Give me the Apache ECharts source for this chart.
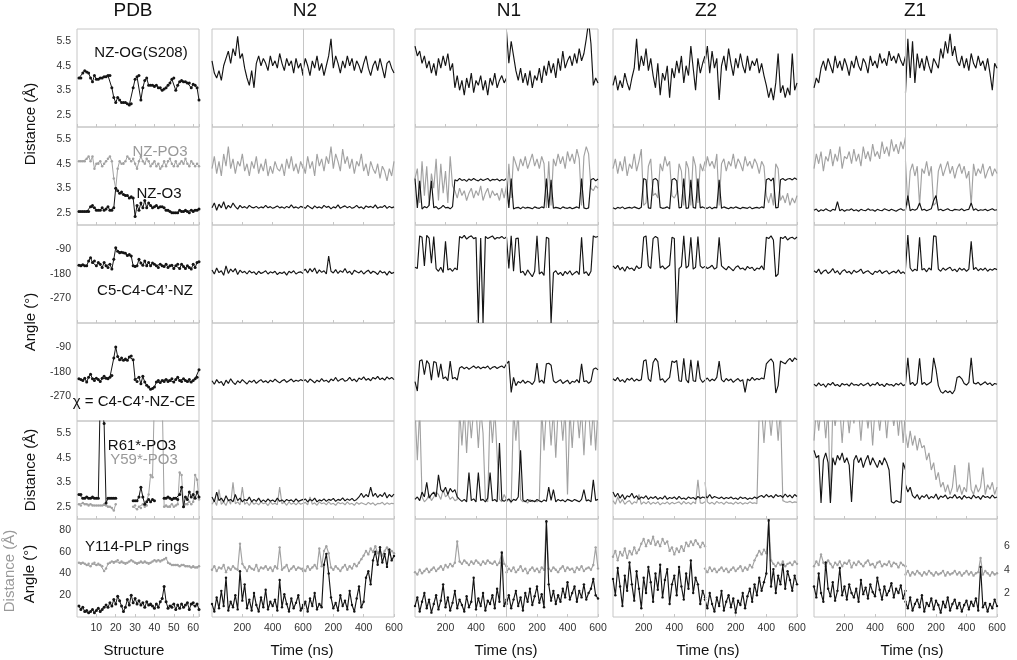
<!DOCTYPE html>
<html><head><meta charset="utf-8">
<script src="https://cdn.jsdelivr.net/npm/echarts@6/dist/echarts.min.js"></script>
<style>html,body{margin:0;padding:0;background:#fff}#c{width:1017px;height:660px}</style>
</head><body><div id="c"></div>
<script>
// ---------------- tick labels / categories ----------------
const columnTitles = ['PDB','N2','N1','Z2','Z1'];
const distTicks = [2.5,3.5,4.5,5.5];
const angleTicks = [-90,-180,-270];
const ringAngleTicks = [20,40,60,80];
const ringDistTicks = [2,4,6];

// ---------------- PDB column (structures 1..63) ----------------
const pdbR1 = [4.0,4.0,4.2,4.3,4.25,4.2,4.0,3.85,4.1,3.95, 3.95,4.0,4.0,4.05,4.05,4.1,4.1,3.6,3.2,3.0, 3.2,3.1,3.0,3.0,3.0,2.95,2.9,2.95,3.6,3.95, 4.05,4.1,3.1,3.6,3.9,4.0,3.7,3.7,3.7,3.65, 3.7,3.6,3.6,3.5,3.55,3.6,3.7,3.8,3.95,4.0, 3.5,3.7,3.85,3.9,3.85,3.85,3.8,3.8,3.6,3.75, 3.7,3.6,3.1];
const pdbR2PO3 = [4.6,4.6,4.6,4.6,4.7,4.8,4.6,4.8,4.3,4.5, 4.5,4.6,4.4,4.5,4.6,4.7,4.8,4.6,3.9,3.5, 4.3,4.6,4.5,4.5,4.6,4.8,4.7,4.6,4.7,4.5, 4.3,4.6,4.8,4.6,4.5,4.7,4.6,4.4,4.5,4.6, 4.4,4.5,4.3,4.4,4.6,4.4,4.6,4.7,4.5,4.4, 4.6,4.4,4.5,4.6,4.5,4.7,4.5,4.4,4.6,4.5, 4.4,4.5,4.4];
const pdbR2O3 = [2.55,2.55,2.55,2.55,2.55,2.55,2.75,2.8,2.7,2.6, 2.6,2.6,2.7,2.6,2.65,2.75,2.6,2.6,2.7,3.5, 3.4,3.3,3.35,3.25,3.2,3.2,3.1,3.15,3.1,2.35, 2.8,2.6,2.9,2.7,3.0,2.7,2.9,2.8,2.7,2.75, 2.8,2.7,2.75,2.75,2.7,2.6,2.6,2.55,2.5,2.5, 2.5,2.5,2.6,2.55,2.55,2.6,2.55,2.5,2.6,2.55, 2.6,2.6,2.65];
const pdbR3 = [-148,-150,-146,-150,-150,-132,-120,-138,-132,-150, -138,-144,-156,-138,-150,-156,-144,-162,-126,-84, -96,-102,-100,-102,-104,-112,-108,-114,-150,-152, -150,-126,-140,-148,-132,-150,-138,-150,-140,-144, -150,-156,-144,-150,-152,-144,-156,-150,-148,-160, -150,-144,-160,-144,-152,-160,-150,-156,-162,-144, -156,-138,-135];
const pdbR4 = [-205,-208,-211,-203,-217,-199,-188,-205,-211,-203, -208,-215,-203,-196,-203,-205,-199,-193,-129,-88, -123,-135,-129,-137,-132,-137,-125,-121,-135,-208, -215,-199,-223,-196,-217,-229,-235,-243,-241,-235, -217,-211,-219,-211,-215,-208,-215,-211,-205,-217, -208,-199,-211,-215,-205,-211,-215,-208,-217,-211, -205,-199,-172];
const pdbR5R61 = [3.0,3.0,2.85,2.85,2.9,2.85,2.85,2.9,2.85,2.85, 2.85,7.0,7.0,5.9,2.65,2.85,2.85,2.85,2.85,2.85, null,null,null,null,null,null,null,null,2.75,2.75, 2.75,2.9,3.3,2.9,2.6,2.7,2.8,2.7,2.8,2.75, null,null,null,null,2.85,2.85,2.9,2.85,2.8,2.85, 2.85,2.8,3.0,3.3,2.5,2.9,2.8,3.1,2.9,3.0, 2.85,3.1,2.9];
const pdbR5Y59 = [2.6,2.55,2.65,2.6,2.6,2.55,2.6,2.55,2.55,2.55, 2.55,2.55,2.55,2.6,2.55,2.5,2.5,2.45,2.35,2.6, null,null,null,null,null,null,null,null,2.5,2.55, 2.4,2.5,2.45,2.6,2.5,2.55,3.0,3.8,3.7,7.0, null,null,null,7.0,2.5,2.55,2.5,2.5,2.6,2.5, 2.55,2.6,3.9,3.8,2.5,2.6,2.6,2.7,2.6,2.7, 3.8,3.6,2.8];
const pdbR6Angle = [10,7,9,5,6,4,5,7,4,6, 8,5,7,9,11,9,13,10,16,12, 19,15,10,5,9,16,11,20,13,17, 12,15,11,13,9,14,11,12,10,8, 12,9,14,17,28,14,8,10,9,12, 7,11,8,12,9,11,13,7,12,13, 10,12,7];
const pdbR6Dist = [4.6,4.5,4.6,4.5,4.4,4.5,4.3,4.5,4.6,4.4, 4.5,4.4,4.3,3.9,4.1,4.5,4.6,4.7,4.6,4.7, 4.8,4.6,4.7,4.6,4.5,4.6,4.7,4.8,4.7,4.6, 4.5,4.6,4.7,4.6,4.7,4.6,4.5,4.6,4.7,4.8, 4.7,4.8,4.7,4.8,4.9,5.0,4.6,4.5,4.4,4.4, 4.4,4.4,4.3,4.4,4.4,4.3,4.3,4.3,4.2,4.3, 4.2,4.2,4.3];

// ---------------- N2 (two 600 ns runs: a, b) ----------------
const n2R1a = [4.7,4.2,4.0,4.3,3.9,4.5,4.8,5.1,4.6,5.2, 4.9,5.7,4.8,5.0,4.4,4.0,3.7,4.3,3.6,4.6, 4.9,4.5,4.8,4.6,4.3,4.9,4.5,4.7,4.4,5.0, 4.6,4.3,4.8,4.5,4.7,4.2,4.8,4.4,4.6,4.1];
const n2R1b = [4.3,4.8,4.5,4.1,4.7,4.4,4.9,4.3,4.6,4.1, 4.5,4.9,5.6,4.4,4.9,4.6,4.2,4.7,4.4,4.9, 4.5,4.8,4.3,4.7,4.5,4.2,4.6,4.9,4.4,4.1, 4.5,4.7,4.3,4.8,4.4,4.0,4.6,4.7,4.4,4.2];
const n2R2POa = [4.3,4.8,4.1,4.6,4.0,4.9,4.4,5.2,4.3,4.7, 4.1,4.6,4.4,4.9,4.2,4.5,4.0,4.6,4.3,4.8, 4.1,4.5,4.2,4.7,4.0,4.4,4.1,4.6,4.3,4.2, 4.5,4.0,4.7,4.3,4.8,4.2,4.5,4.1,4.6,4.3];
const n2R2POb = [4.5,4.1,4.8,4.3,4.6,4.0,4.9,4.4,4.7,4.2, 4.8,4.5,5.2,4.3,4.9,4.6,4.2,5.1,4.5,4.8, 4.3,4.7,4.1,4.6,4.4,4.9,4.2,4.5,4.0,4.6, 4.3,4.1,4.5,3.9,4.4,4.2,3.8,4.3,4.0,4.6];
const n2R2Oa = [2.7,2.9,2.6,2.85,2.7,2.95,2.65,2.8,2.7,2.9, 2.75,2.65,2.8,2.7,2.75,2.68,2.8,2.72,2.7,2.76, 2.68,2.74,2.7,2.8,2.7,2.75,2.68,2.72,2.78,2.7, 2.74,2.68,2.76,2.7,2.82,2.7,2.74,2.68,2.76,2.72];
const n2R2Ob = [2.75,2.68,2.8,2.72,2.66,2.78,2.7,2.74,2.68,2.8, 2.72,2.76,2.66,2.74,2.7,2.82,2.68,2.74,2.78,2.7, 2.76,2.68,2.72,2.8,2.7,2.74,2.66,2.78,2.72,2.76, 2.7,2.82,2.68,2.74,2.72,2.8,2.68,2.76,2.7,2.74];
const n2R3a = [-165,-180,-158,-175,-168,-185,-150,-178,-162,-172, -160,-182,-166,-175,-170,-180,-168,-176,-172,-182, -170,-178,-174,-168,-180,-172,-176,-170,-182,-174, -178,-172,-184,-170,-176,-168,-180,-174,-172,-178];
const n2R3b = [-170,-162,-176,-160,-172,-158,-178,-165,-174,-168, -180,-114,-170,-176,-164,-178,-168,-174,-160,-176, -170,-182,-166,-172,-176,-168,-180,-172,-166,-178, -170,-174,-182,-168,-176,-172,-184,-170,-178,-174];
const n2R4a = [-212,-225,-208,-220,-215,-230,-210,-222,-205,-218, -226,-212,-220,-208,-216,-224,-212,-218,-210,-222, -214,-208,-218,-212,-220,-210,-216,-206,-214,-220, -212,-208,-218,-212,-206,-216,-210,-214,-208,-212];
const n2R4b = [-214,-208,-218,-206,-212,-220,-210,-216,-204,-214, -210,-218,-206,-212,-200,-214,-208,-204,-214,-210, -200,-212,-206,-216,-202,-208,-198,-210,-204,-212, -200,-206,-196,-208,-202,-210,-198,-206,-200,-208];
const n2R5Ya = [2.6,2.75,2.55,3.2,2.6,2.7,2.55,2.8,2.6,3.5, 2.62,2.7,2.58,3.3,2.6,2.68,2.55,2.72,2.6,2.66, 2.58,2.7,2.62,2.66,2.55,2.7,2.6,2.64,2.58,3.3, 2.62,2.68,2.56,2.7,2.6,2.66,2.58,2.68,2.6,2.64];
const n2R5Yb = [2.62,2.68,2.58,2.9,2.6,2.66,2.56,2.7,2.62,2.66, 2.58,2.7,2.6,2.64,2.56,2.68,2.62,2.66,2.58,2.7, 2.6,2.64,2.56,2.68,2.6,2.66,2.62,2.58,2.68,2.6, 2.66,2.56,2.64,2.62,2.68,2.58,2.66,2.6,2.64,2.62];
const n2R5Ra = [2.9,2.7,3.1,2.75,2.85,2.7,2.95,2.75,2.8,2.7, 3.0,2.75,2.85,2.7,2.8,2.75,2.9,2.7,2.8,2.72, 2.85,2.7,2.78,2.7,2.82,2.72,2.78,2.7,2.85,2.72, 2.78,2.7,2.8,2.74,2.78,2.7,2.82,2.72,2.76,2.8];
const n2R5Rb = [2.75,2.82,2.7,2.8,2.74,2.85,2.7,2.78,2.74,2.82, 2.72,2.8,2.76,2.84,2.72,2.8,2.76,2.86,2.74,2.82, 2.76,2.84,2.74,2.8,2.9,3.05,2.88,3.0,2.9,3.3, 2.92,3.05,2.88,3.0,2.92,3.08,2.86,3.0,2.9,3.02];
const n2R6Da = [4.0,4.3,3.9,4.2,4.1,4.4,3.8,4.2,4.0,4.3, 4.1,4.0,6.2,4.5,4.2,3.9,4.3,4.1,4.0,4.4, 3.9,4.2,4.1,4.3,4.0,4.2,3.9,4.3,4.1,5.9, 4.0,4.2,4.4,3.9,4.1,4.3,4.0,4.2,4.1,3.9];
const n2R6Db = [4.1,3.9,4.3,4.0,4.2,4.4,4.1,5.8,4.3,5.6, 6.0,5.4,4.2,4.0,4.3,4.1,3.9,4.2,4.4,4.0, 4.3,4.1,4.5,4.3,4.6,4.9,5.2,5.6,5.3,5.8, 5.5,6.0,5.4,5.7,5.2,5.6,5.9,5.3,5.6,5.4];
const n2R6Aa = [12,5,18,8,24,10,36,6,14,9, 20,7,42,15,30,8,16,6,22,11, 5,18,9,25,7,14,10,16,6,34, 9,21,12,5,17,8,13,20,6,11];
const n2R6Ab = [8,14,5,17,10,22,7,12,9,48, 58,40,18,8,13,6,20,10,15,7, 24,11,5,17,28,9,14,36,42,30, 52,60,48,64,50,58,46,62,52,56];

// ---------------- N1 ----------------
const n1R1a = [5.3,4.9,5.1,4.6,4.9,4.4,4.7,4.2,4.6,4.1, 4.8,4.4,4.9,4.5,5.0,4.3,4.6,3.6,4.1,3.5, 3.9,3.3,4.0,3.6,4.2,3.4,3.9,3.7,4.1,3.5, 3.9,3.3,4.0,3.7,4.2,3.6,3.9,4.1,3.8,4.0];
const n1R1b = [5.9,4.6,5.5,4.9,4.3,3.9,4.4,3.8,4.2,3.7, 4.3,3.6,4.1,3.9,4.4,3.8,4.5,4.1,4.7,4.2, 4.6,4.0,4.8,4.3,5.1,4.4,4.7,4.9,4.5,5.0, 4.6,5.2,4.7,5.0,5.6,6.3,5.4,3.7,4.0,3.8];
const n1R2POa = [3.9,4.3,2.9,4.6,3.2,4.4,2.8,4.1,3.5,4.7, 3.0,4.5,3.3,4.2,2.9,4.8,3.6,3.4,3.1,3.5, 3.2,3.4,3.0,3.3,3.5,3.1,3.4,3.2,3.6,3.0, 3.3,3.5,3.1,3.4,3.2,3.3,3.0,3.5,3.1,3.6];
const n1R2POb = [2.8,4.5,3.1,4.8,4.5,4.2,4.7,4.4,4.8,4.3, 4.6,4.9,4.4,4.7,4.3,4.8,4.5,2.7,4.6,2.8, 4.7,4.4,4.9,4.5,4.8,4.3,5.0,4.6,4.9,4.5, 5.1,4.7,2.8,4.8,5.2,4.9,3.5,3.4,3.6,3.5];
const n1R2Oa = [3.9,2.7,3.8,2.65,2.75,2.7,2.8,3.8,2.7,2.75, 2.65,2.7,2.8,2.7,2.72,2.66,2.75,3.85,3.8,3.9, 3.82,3.86,3.78,3.88,3.82,3.9,3.84,3.8,3.88,3.82, 3.86,3.9,3.8,3.86,3.84,3.88,3.8,3.86,3.82,3.9];
const n1R2Ob = [3.8,2.7,3.9,2.65,2.7,2.72,2.66,2.74,2.68,2.72, 2.7,2.66,2.74,2.7,2.68,2.74,2.7,3.9,2.7,3.85, 2.68,2.72,2.7,2.66,2.74,2.7,2.68,2.72,2.66,2.7, 2.74,2.68,3.9,2.7,2.66,2.7,3.85,3.9,3.8,3.88];
const n1R3a = [-155,-160,-40,-45,-150,-38,-48,-140,-42,-160, -170,-155,-175,-60,-165,-160,-170,-158,-165,-42, -48,-38,-52,-44,-40,-50,-46,-360,-48,-360, -42,-50,-45,-40,-52,-46,-48,-42,-50,-44];
const n1R3b = [-45,-160,-40,-170,-50,-48,-175,-170,-185,-165, -178,-190,-170,-40,-180,-172,-185,-45,-50,-360, -176,-168,-182,-174,-186,-170,-180,-168,-184,-176, -170,-182,-45,-178,-172,-186,-170,-40,-45,-42];
const n1R4a = [-215,-250,-140,-135,-190,-138,-150,-210,-142,-145, -200,-150,-205,-198,-212,-140,-205,-200,-210,-165, -160,-168,-162,-170,-164,-158,-166,-160,-168,-162, -165,-158,-170,-163,-160,-167,-162,-158,-165,-150];
const n1R4b = [-150,-140,-255,-200,-230,-215,-220,-210,-222,-214, -218,-226,-212,-147,-218,-210,-222,-150,-148,-155, -212,-220,-214,-208,-222,-216,-210,-224,-214,-218, -208,-220,-150,-216,-212,-222,-214,-170,-165,-172];
const n1R5Ya = [6.5,4.4,6.5,2.9,2.7,2.8,3.0,2.75,2.9,3.1, 3.0,2.8,3.2,2.9,3.0,2.8,2.9,2.75,2.8,6.5, 5.0,6.5,4.7,6.5,5.3,6.5,6.5,4.9,6.5,5.5, 2.8,2.7,6.5,5.1,6.5,4.6,2.8,2.7,3.0,2.8];
const n1R5Yb = [2.7,2.8,2.65,6.5,5.2,6.5,2.8,2.7,2.75,2.65, 2.8,2.7,2.75,2.7,2.8,6.5,4.8,6.5,6.5,5.0, 6.5,4.5,6.5,6.5,5.2,6.5,3.0,6.5,4.9,6.5, 6.5,5.3,6.5,4.6,6.5,6.5,5.0,6.5,4.8,6.5];
const n1R5Ra = [2.8,2.9,2.75,3.1,2.9,3.5,2.85,3.0,3.1,2.9, 3.8,3.2,3.1,3.3,3.0,3.25,3.1,3.2,2.9,2.8, 2.72,2.8,2.7,3.9,2.75,2.82,2.7,3.9,2.76,2.8, 2.7,2.85,3.9,2.74,2.8,2.7,5.1,2.78,2.72,2.8];
const n1R5Rb = [2.75,2.82,2.7,2.8,2.76,2.9,4.8,2.78,2.7,2.8, 2.72,2.76,2.7,2.8,2.74,2.7,2.78,2.72,3.3,2.76, 3.2,2.7,2.8,2.74,2.78,2.7,2.8,2.76,2.72,2.8, 2.75,2.7,2.8,3.2,2.74,2.78,2.7,3.6,2.76,2.8];
const n1R6Da = [3.8,3.6,4.0,3.7,3.9,4.1,3.8,4.0,4.2,3.9, 4.1,4.3,4.0,4.4,4.2,4.5,4.3,4.6,6.4,4.7, 4.5,4.8,4.6,4.4,4.7,4.5,4.8,4.6,4.4,4.7, 4.5,4.8,4.6,4.5,4.7,4.4,4.6,5.5,4.5,4.3];
const n1R6Db = [3.8,4.1,3.9,4.2,3.8,4.0,4.3,3.9,4.1,3.7, 4.0,4.2,3.9,4.1,3.8,4.2,4.0,8.0,4.1,3.9, 4.2,4.0,3.8,4.1,4.3,3.9,4.2,4.0,4.1,3.8, 4.2,4.0,4.3,3.9,4.1,4.2,4.0,4.4,5.9,4.1];
const n1R6Aa = [10,18,5,14,22,8,16,4,12,20, 7,15,30,9,18,6,13,24,8,16, 11,5,19,9,14,36,7,17,10,22, 6,15,12,20,8,26,14,59,10,16];
const n1R6Ab = [12,20,8,16,24,10,18,6,22,14, 26,11,19,28,13,21,9,88,30,15, 24,12,20,14,26,18,32,16,22,28, 14,24,18,30,16,22,26,35,20,17];

// ---------------- Z2 ----------------
const z2R1a = [3.7,4.1,3.5,3.9,3.6,4.2,3.8,3.5,4.0,4.4, 5.6,4.3,4.9,4.5,5.2,4.3,4.8,4.1,3.6,4.6, 3.3,4.2,3.9,4.5,3.2,4.4,4.0,4.7,4.2,4.9, 3.8,4.5,4.1,5.3,4.4,3.5,4.8,4.2,4.6,4.9];
const z2R1b = [4.6,5.3,4.2,5.1,4.4,4.8,3.1,4.5,4.9,4.3, 5.2,4.6,4.1,4.8,4.4,5.0,4.5,4.2,4.9,4.3, 4.7,4.5,4.8,4.2,4.6,4.1,3.7,3.2,3.6,3.1, 3.8,5.0,3.4,3.7,3.2,3.6,3.3,5.0,3.5,3.8];
const z2R2POa = [4.3,4.7,4.1,4.6,4.2,4.8,4.0,4.5,4.3,4.9, 4.2,4.6,5.1,2.8,2.9,4.4,4.7,3.2,3.3,3.1, 4.5,4.2,4.8,4.4,4.6,3.2,3.1,3.3,4.5,4.2, 2.8,4.6,4.3,2.8,4.8,4.4,2.9,4.5,4.2,4.6];
const z2R2POb = [4.2,4.8,4.4,4.6,4.3,4.9,2.8,4.5,4.7,4.2, 4.6,4.4,4.9,4.3,4.7,4.5,4.2,4.8,4.4,4.6, 4.3,4.7,4.5,4.1,4.6,4.4,3.2,2.9,3.3,2.8, 4.5,4.3,3.0,3.2,2.9,3.3,2.8,3.1,2.9,3.2];
const z2R2Oa = [2.7,2.65,2.72,2.68,2.74,2.66,2.7,2.72,2.68,2.74, 2.7,2.66,2.72,3.9,3.85,2.7,2.68,3.85,3.9,3.8, 2.72,2.68,2.7,2.74,2.66,3.85,3.9,3.8,2.7,2.72, 3.9,2.68,2.7,3.85,2.72,2.68,3.9,2.7,2.74,2.68];
const z2R2Ob = [2.7,2.68,2.74,2.66,2.72,2.7,3.85,2.68,2.74,2.7, 2.66,2.72,2.68,2.74,2.7,2.66,2.72,2.7,2.68,2.74, 2.66,2.7,2.72,2.68,2.74,2.7,3.85,3.9,3.8,3.92, 2.7,2.72,3.85,3.9,3.82,3.88,3.9,3.84,3.92,3.86];
const z2R3a = [-150,-160,-148,-165,-155,-170,-152,-162,-158,-168, -150,-160,-155,-45,-40,-150,-160,-50,-42,-48, -158,-150,-162,-155,-148,-45,-50,-360,-160,-152, -40,-158,-150,-45,-162,-155,-42,-150,-158,-152];
const z2R3b = [-150,-160,-155,-148,-162,-156,-45,-150,-158,-165, -152,-160,-168,-155,-150,-162,-158,-166,-152,-160, -155,-168,-158,-162,-150,-165,-45,-50,-40,-55, -190,-180,-45,-50,-42,-55,-48,-45,-52,-44];
const z2R4a = [-205,-212,-200,-215,-208,-218,-204,-210,-202,-214, -206,-212,-208,-140,-135,-205,-215,-145,-130,-142, -210,-205,-218,-208,-200,-140,-145,-138,-212,-215, -130,-208,-220,-135,-212,-215,-138,-205,-218,-210];
const z2R4b = [-210,-202,-214,-206,-212,-200,-140,-208,-216,-204, -212,-206,-218,-210,-204,-214,-208,-255,-206,-212, -200,-210,-204,-208,-202,-206,-150,-140,-132,-145, -257,-230,-140,-145,-150,-138,-130,-142,-128,-135];
const z2R5Ya = [2.75,2.6,2.9,2.65,2.8,2.6,2.7,2.75,2.6,2.7, 2.65,3.0,2.6,2.7,2.62,2.72,2.6,2.68,2.62,2.7, 2.58,2.66,2.62,2.7,2.6,2.68,2.62,2.66,2.7,2.6, 2.72,2.62,2.68,2.6,2.7,2.62,3.6,2.66,2.64,2.7];
const z2R5Yb = [3.5,2.7,2.62,2.68,2.6,2.72,2.64,2.68,2.6,2.7, 2.64,2.66,2.6,2.7,2.62,2.68,2.6,2.66,2.62,2.7, 2.64,2.66,2.62,6.5,6.5,5.1,6.5,6.5,5.4,6.5, 6.5,5.2,6.5,2.75,2.7,2.68,2.72,2.66,2.7,2.68];
const z2R5Ra = [3.1,2.9,3.05,2.85,3.0,2.8,2.95,2.9,3.05,2.85, 2.95,2.8,2.9,2.85,2.95,2.8,2.9,2.84,2.92,2.8, 2.88,2.82,2.95,2.8,2.88,2.84,2.9,2.8,2.92,2.82, 2.86,2.8,2.9,2.84,2.88,2.8,2.92,2.84,2.9,2.86];
const z2R5Rb = [2.95,2.86,3.0,2.84,2.92,2.88,2.84,2.9,2.82,2.88, 2.84,2.9,2.82,2.86,2.8,2.9,2.84,2.88,2.8,2.86, 2.82,2.9,2.84,2.92,2.96,2.88,3.0,2.9,2.96,2.86, 3.0,2.92,2.96,2.88,3.02,2.9,2.98,2.86,3.0,2.92];
const z2R6Da = [5.1,5.6,4.8,5.5,5.2,5.8,5.0,5.6,5.3,5.9, 5.4,5.7,6.2,6.6,6.0,6.5,6.2,6.8,6.1,6.4, 6.0,6.6,6.2,6.4,5.6,5.9,5.3,5.8,5.5,6.0, 5.6,6.3,6.0,6.4,6.1,6.5,6.2,5.9,6.3,6.0];
const z2R6Db = [4.1,3.8,4.2,3.9,4.1,3.8,4.0,4.2,3.9,4.1, 3.8,4.0,4.2,3.9,4.1,4.3,3.9,4.2,4.0,4.4, 4.2,4.8,5.2,5.6,5.3,5.7,5.4,8.1,4.8,4.5, 4.3,4.6,4.4,4.7,4.3,4.5,4.6,4.4,4.7,4.5];
const z2R6Aa = [35,20,45,28,10,38,24,50,30,15, 42,26,8,36,22,46,32,14,40,25, 48,18,34,44,12,30,38,20,46,28, 16,40,26,52,22,36,30,12,24,18];
const z2R6Ab = [16,8,22,12,5,18,10,24,6,14, 20,9,17,4,15,11,22,8,19,26, 14,30,20,36,24,32,40,89,28,44, 22,38,30,48,26,42,34,24,38,30];

// ---------------- Z1 ----------------
const z1R1a = [3.6,4.0,3.8,4.4,4.7,4.3,4.8,4.5,4.2,4.9, 4.4,4.7,4.3,4.8,4.5,4.1,4.7,4.4,4.9,4.5, 4.3,4.8,4.6,4.2,4.9,4.5,4.7,4.4,5.0,4.6, 4.8,4.5,5.1,4.7,4.9,4.6,5.0,4.7,4.5,4.9];
const z1R1b = [3.4,5.6,4.0,5.5,3.8,5.0,4.4,4.8,4.3,4.9, 4.5,4.2,4.8,4.6,4.4,5.2,4.8,5.5,5.0,5.8, 4.9,5.3,4.7,4.5,4.9,4.4,4.8,4.3,5.0,4.6, 4.4,4.9,4.5,4.7,4.3,4.8,4.2,3.5,4.6,4.4];
const z1R2POa = [4.3,4.9,4.5,5.0,4.2,4.8,4.6,5.1,4.4,4.9, 4.6,5.2,4.3,4.8,4.7,5.0,4.5,5.1,4.6,4.9, 4.4,5.2,4.7,5.0,4.6,5.3,4.8,5.0,4.7,5.4, 4.9,5.2,4.8,5.5,5.0,5.3,4.9,5.4,5.1,5.6];
const z1R2POb = [4.6,2.8,4.2,4.5,4.0,4.4,2.8,4.3,4.1,4.6, 4.0,4.4,2.8,2.9,4.2,4.5,4.0,4.3,4.6,4.1, 4.4,3.9,4.3,4.5,4.1,4.4,3.9,4.2,2.8,4.5, 4.0,4.3,4.1,4.5,3.9,4.2,4.4,4.0,4.3,4.1];
const z1R2Oa = [2.6,2.65,2.55,2.62,2.58,2.66,2.6,2.56,2.64,2.6, 2.95,2.58,2.64,2.56,2.62,2.6,2.66,2.58,2.62,2.56, 2.64,2.6,2.58,2.66,2.6,2.62,2.56,2.64,2.6,2.58, 2.66,2.62,2.58,2.64,2.6,2.56,2.62,2.66,2.6,2.62];
const z1R2Ob = [2.62,3.2,2.58,2.64,2.6,2.66,2.9,2.6,2.64,2.58, 2.62,2.66,3.0,3.2,2.6,2.64,2.58,2.62,2.66,2.6, 2.58,2.64,2.62,2.6,2.66,2.58,2.62,2.64,2.9,2.6, 2.66,2.58,2.62,2.6,2.64,2.58,2.62,2.66,2.6,2.62];
const z1R3a = [-168,-175,-162,-180,-170,-165,-178,-172,-160,-176, -168,-182,-170,-164,-175,-170,-180,-166,-174,-170, -162,-178,-172,-168,-176,-182,-170,-174,-166,-178, -172,-168,-180,-174,-170,-176,-165,-178,-172,-180];
const z1R3b = [-160,-37,-158,-170,-162,-168,-45,-165,-160,-172, -158,-166,-40,-42,-162,-170,-158,-166,-160,-155, -168,-162,-172,-158,-166,-160,-170,-162,-60,-164, -156,-168,-160,-166,-158,-170,-162,-166,-160,-164];
const z1R4a = [-225,-232,-220,-230,-224,-236,-222,-228,-218,-230, -226,-234,-222,-228,-224,-232,-220,-228,-226,-230, -222,-230,-226,-220,-232,-224,-228,-218,-230,-225, -234,-222,-228,-226,-232,-222,-228,-220,-230,-226];
const z1R4b = [-222,-128,-226,-218,-230,-220,-130,-226,-218,-228, -222,-216,-128,-170,-230,-252,-258,-248,-256,-250, -260,-246,-200,-196,-205,-222,-228,-218,-128,-220, -224,-218,-228,-222,-216,-226,-220,-230,-222,-225];
const z1R5Ya = [5.2,6.5,5.6,6.5,6.5,5.3,6.5,2.65,6.5,5.8, 6.5,6.5,5.1,6.5,6.5,5.5,6.5,5.9,6.5,6.5, 5.2,6.5,6.5,5.7,6.5,5.0,6.5,6.5,5.6,6.5, 6.5,5.3,6.5,6.5,5.8,6.5,5.4,6.5,5.1,6.5];
const z1R5Yb = [5.5,4.9,5.6,5.0,5.4,4.8,5.3,4.9,5.0,4.4, 4.7,4.0,4.3,3.6,3.9,3.3,3.5,3.1,3.4,3.0, 3.3,4.2,3.1,3.4,3.0,3.3,3.1,4.3,3.2,3.0, 3.4,3.1,3.3,4.1,3.0,3.4,3.2,3.5,3.0,3.3];
const z1R5Ra = [4.8,4.5,4.6,2.65,4.4,4.7,4.3,2.65,4.5,4.2, 4.6,4.4,4.7,4.3,4.5,4.2,2.7,4.4,4.6,4.3, 4.5,4.1,4.4,4.6,4.2,4.5,4.3,4.1,4.4,4.2, 4.5,4.3,4.0,2.7,2.65,2.75,2.7,2.68,4.3,4.0];
const z1R5Rb = [3.4,3.1,3.3,2.95,2.85,3.0,2.8,2.95,2.88,3.0, 2.82,2.92,2.86,3.02,2.8,2.94,2.88,2.98,2.82,2.9, 2.86,3.0,2.84,2.92,2.8,2.96,2.86,2.9,2.82,2.98, 2.86,2.92,2.8,2.96,2.88,2.92,2.84,2.98,2.86,2.9];
const z1R6Da = [4.3,4.7,4.4,5.3,4.6,4.3,4.8,4.5,4.2,4.6, 4.4,4.7,4.3,4.6,4.5,4.8,4.2,4.6,4.4,4.7, 4.5,4.3,4.6,4.8,4.4,4.5,4.2,4.6,4.7,4.3, 4.5,4.4,4.7,4.3,4.6,4.5,4.2,4.6,4.4,4.3];
const z1R6Db = [3.6,3.9,3.5,3.8,3.6,3.9,3.7,3.5,3.8,3.6, 3.9,3.7,3.5,3.8,3.6,3.7,3.9,3.5,3.8,3.6, 3.7,3.9,3.6,3.8,3.5,3.7,3.9,3.6,3.8,3.5, 3.7,3.8,5.0,3.6,3.9,3.7,3.5,3.8,3.6,3.7];
const z1R6Aa = [28,18,40,22,14,50,26,19,32,15, 24,45,20,28,16,30,22,18,26,14, 34,21,27,17,30,23,19,36,25,16, 28,20,24,31,18,26,22,29,17,24];
const z1R6Ab = [14,8,18,6,12,16,9,20,5,13, 10,17,7,15,11,4,14,9,18,6, 12,16,8,13,5,11,15,7,14,10, 17,6,46,9,13,5,12,8,16,10];

// ---------------- build ----------------
const FONT = '"Liberation Sans", Arial, Helvetica, sans-serif';
const BLACK = '#141414', GRAY = '#a2a2a2', BORDER = '#c6c6c6';
const COL_L = [77, 212, 415, 613, 814];
const COL_R = [199, 394, 598, 797, 997];
const ROW_T = 29, ROW_H = 98;

const mdCols = [
  {r1:[n2R1a,n2R1b], r2g:[n2R2POa,n2R2POb], r2b:[n2R2Oa,n2R2Ob], r3:[n2R3a,n2R3b], r4:[n2R4a,n2R4b], r5g:[n2R5Ya,n2R5Yb], r5b:[n2R5Ra,n2R5Rb], r6g:[n2R6Da,n2R6Db], r6b:[n2R6Aa,n2R6Ab]},
  {r1:[n1R1a,n1R1b], r2g:[n1R2POa,n1R2POb], r2b:[n1R2Oa,n1R2Ob], r3:[n1R3a,n1R3b], r4:[n1R4a,n1R4b], r5g:[n1R5Ya,n1R5Yb], r5b:[n1R5Ra,n1R5Rb], r6g:[n1R6Da,n1R6Db], r6b:[n1R6Aa,n1R6Ab]},
  {r1:[z2R1a,z2R1b], r2g:[z2R2POa,z2R2POb], r2b:[z2R2Oa,z2R2Ob], r3:[z2R3a,z2R3b], r4:[z2R4a,z2R4b], r5g:[z2R5Ya,z2R5Yb], r5b:[z2R5Ra,z2R5Rb], r6g:[z2R6Da,z2R6Db], r6b:[z2R6Aa,z2R6Ab]},
  {r1:[z1R1a,z1R1b], r2g:[z1R2POa,z1R2POb], r2b:[z1R2Oa,z1R2Ob], r3:[z1R3a,z1R3b], r4:[z1R4a,z1R4b], r5g:[z1R5Ya,z1R5Yb], r5b:[z1R5Ra,z1R5Rb], r6g:[z1R6Da,z1R6Db], r6b:[z1R6Aa,z1R6Ab]}
];

function mdPts(pair) {
  const [a, b] = pair, d = [];
  a.forEach((v, i) => d.push([i * 600 / (a.length - 1), v]));
  d.push([600, null]);
  b.forEach((v, i) => d.push([600 + i * 600 / (b.length - 1), v]));
  return d;
}
function pdbPts(arr) { return arr.map((v, i) => [i + 1, v]); }

const near = (v, list) => list.some(t => Math.abs(v - t) < 1e-6);
const yCfg = [
  {min:2, max:6, interval:0.5, ticks:distTicks},
  {min:2, max:6, interval:0.5, ticks:distTicks},
  {min:-360, max:0, interval:90, ticks:angleTicks},
  {min:-360, max:0, interval:90, ticks:angleTicks},
  {min:2, max:6, interval:0.5, ticks:distTicks},
  {min:0, max:90, interval:10, ticks:ringAngleTicks}
];

const grid = [], xAxis = [], yAxis = [], series = [];
const rightAxisIndex = [];

for (let r = 0; r < 6; r++) {
  for (let c = 0; c < 5; c++) {
    const gi = r * 5 + c;
    grid.push({left: COL_L[c], top: ROW_T + r * ROW_H, width: COL_R[c] - COL_L[c], height: ROW_H,
      show: true, borderColor: BORDER, borderWidth: 1, backgroundColor: 'rgba(0,0,0,0)'});
    const isPdb = c === 0;
    xAxis.push({type: 'value', gridIndex: gi,
      min: 0, max: isPdb ? 63 : 1200, interval: isPdb ? 10 : 200,
      axisLine: {show: false}, splitLine: {show: false},
      axisTick: {show: true, inside: true, length: 3, lineStyle: {color: BORDER}},
      axisLabel: {show: r === 5, fontSize: 10.5, color: '#333', fontFamily: FONT, margin: 6,
        showMinLabel: false,
        formatter: isPdb ? (v => (v > 0 && v % 10 === 0) ? String(v) : '')
                         : (v => (v > 0 && v % 200 === 0) ? String(v > 600 ? v - 600 : v) : '')}});
    const yc = yCfg[r];
    yAxis.push({type: 'value', gridIndex: gi, min: yc.min, max: yc.max, interval: yc.interval,
      axisLine: {show: false}, axisTick: {show: false}, splitLine: {show: false},
      axisLabel: {show: isPdb, fontSize: 10.5, color: '#333', fontFamily: FONT, margin: 6,
        showMinLabel: true, showMaxLabel: true,
        formatter: v => near(v, yc.ticks) ? String(v) : ''}});
  }
}
// secondary (distance) axes for the ring row
for (let c = 0; c < 5; c++) {
  rightAxisIndex.push(yAxis.length);
  yAxis.push({type: 'value', gridIndex: 25 + c, position: 'right', min: 0, max: 8.3, interval: 2,
    axisLine: {show: false}, axisTick: {show: false}, splitLine: {show: false},
    axisLabel: {show: c === 4, fontSize: 10.5, color: '#333', fontFamily: FONT, margin: 7,
      formatter: v => near(v, ringDistTicks) ? String(v) : ''}});
}

function addLine(gi, yi, data, color, o) {
  o = o || {};
  const s = {type: 'line', xAxisIndex: gi, yAxisIndex: yi, data: data,
    symbol: 'circle', showSymbol: !!o.sym, symbolSize: o.sym || 2,
    lineStyle: {color: color, width: o.w || 1.15}, itemStyle: {color: color, borderWidth: 0},
    connectNulls: false, clip: true, animation: false, silent: true, z: o.z || 2,
    emphasis: {disabled: true}};
  if (o.mid) {
    s.markLine = {silent: true, symbol: 'none', animation: false, label: {show: false},
      lineStyle: {color: BORDER, type: 'solid', width: 1}, data: [{xAxis: 600}]};
  }
  series.push(s);
}

// PDB column
addLine(0, 0, pdbPts(pdbR1), BLACK, {sym: 3, w: 1});
addLine(5, 5, pdbPts(pdbR2PO3), GRAY, {sym: 2.5, w: 1});
addLine(5, 5, pdbPts(pdbR2O3), BLACK, {sym: 3, z: 3, w: 1});
addLine(10, 10, pdbPts(pdbR3), BLACK, {sym: 3, w: 1});
addLine(15, 15, pdbPts(pdbR4), BLACK, {sym: 3, w: 1});
addLine(20, 20, pdbPts(pdbR5Y59), GRAY, {sym: 2.5, w: 1});
addLine(20, 20, pdbPts(pdbR5R61), BLACK, {sym: 3, z: 3, w: 1});
addLine(25, rightAxisIndex[0], pdbPts(pdbR6Dist), GRAY, {sym: 2.5, w: 1});
addLine(25, 25, pdbPts(pdbR6Angle), BLACK, {sym: 3, z: 3, w: 1});

// MD columns
mdCols.forEach((m, k) => {
  const c = k + 1;
  const g = r => r * 5 + c;
  addLine(g(0), g(0), mdPts(m.r1), BLACK, {mid: true});
  addLine(g(1), g(1), mdPts(m.r2g), GRAY, {mid: true});
  addLine(g(1), g(1), mdPts(m.r2b), BLACK, {z: 3});
  addLine(g(2), g(2), mdPts(m.r3), BLACK, {mid: true});
  addLine(g(3), g(3), mdPts(m.r4), BLACK, {mid: true});
  addLine(g(4), g(4), mdPts(m.r5g), GRAY, {mid: true});
  addLine(g(4), g(4), mdPts(m.r5b), BLACK, {z: 3});
  addLine(g(5), rightAxisIndex[c], mdPts(m.r6g), GRAY, {mid: true, sym: 2.4});
  addLine(g(5), g(5), mdPts(m.r6b), BLACK, {sym: 2.4, z: 3});
});

// text
function txt(text, x, y, size, color, rot) {
  return {type: 'text', x: x, y: y, rotation: rot || 0, silent: true, z: 100,
    style: {text: text, fill: color || '#111', font: size + 'px ' + FONT,
      align: 'center', verticalAlign: 'middle'}};
}
const R90 = Math.PI / 2;
const graphic = [
  txt(columnTitles[0], 133, 11, 19), txt(columnTitles[1], 305, 11, 19), txt(columnTitles[2], 509, 11, 19),
  txt(columnTitles[3], 706, 11, 19), txt(columnTitles[4], 915, 11, 19),
  txt('Distance (Å)', 31, 124, 15, '#111', R90),
  txt('Angle (°)', 31, 322, 15, '#111', R90),
  txt('Distance (Å)', 31, 470, 15, '#111', R90),
  txt('Angle (°)', 30, 574, 15, '#111', R90),
  txt('Distance (Å)', 10, 571, 15, '#999', R90),
  txt('NZ-OG(S208)', 141, 53, 15),
  txt('NZ-PO3', 160, 152, 15, '#999'),
  txt('NZ-O3', 159, 194, 15),
  txt('C5-C4-C4’-NZ', 145, 291, 15),
  txt('χ = C4-C4’-NZ-CE', 134, 402, 15),
  txt('R61*-PO3', 142, 446, 15),
  txt('Y59*-PO3', 144, 460, 15, '#999'),
  txt('Y114-PLP rings', 137, 547, 15),
  txt('Structure', 134, 651, 15),
  txt('Time (ns)', 302, 651, 15), txt('Time (ns)', 506, 651, 15),
  txt('Time (ns)', 708, 651, 15), txt('Time (ns)', 912, 651, 15)
];

const chart = echarts.init(document.getElementById('c'), null, {renderer: 'canvas'});
chart.setOption({animation: false, backgroundColor: '#fff', grid, xAxis, yAxis, series, graphic});
</script></body></html>
